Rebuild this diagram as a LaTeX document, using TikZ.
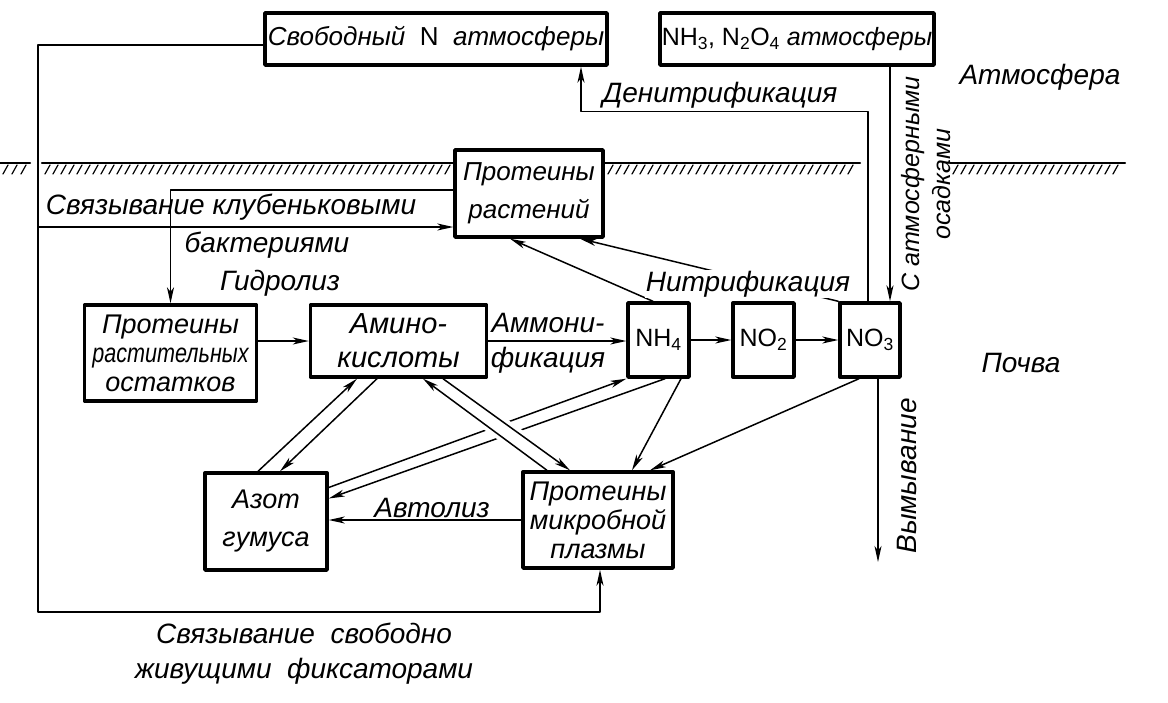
\documentclass[tikz,border=0pt]{standalone}
\usepackage{fontspec}
\setmainfont{Liberation Sans}
\newfontfamily\narrowsans{Liberation Sans}[FakeStretch=0.8]
\usetikzlibrary{arrows.meta}

\begin{document}
\begin{tikzpicture}[x=1pt, y=-1pt, line cap=round, line join=round,
  box/.style={draw, line width=3.4pt, line cap=butt, inner sep=0pt, align=center,
    font=\fontsize{26}{31}\selectfont\itshape},
  chem/.style={box, font=\fontsize{25}{30}\selectfont},
  arr/.style={line width=1.5pt, -{Stealth[length=16pt,width=7pt,inset=4.5pt]}},
  lbl/.style={inner sep=1pt, font=\fontsize{28}{35}\selectfont\itshape}]

  %% ════ 地面线（斜线阴影）════
  \foreach \a/\b in {0/30, 42/455, 605/860, 950/1125} {
    \draw[line width=2.2pt] (\a,163) -- (\b,163);
  }
  \foreach \x in {8,17,26} \draw[line width=1.2pt] (\x,165) -- ++(-5,9);
  \foreach \x in {50,58,...,455} \draw[line width=1.2pt] (\x,165) -- ++(-5,9);
  \foreach \x in {613,621,...,860} \draw[line width=1.2pt] (\x,165) -- ++(-5,9);
  \foreach \x in {958,966,...,1125} \draw[line width=1.2pt] (\x,165) -- ++(-5,9);

  %% ════ 方框 ════
  \node[box, minimum width=342pt, minimum height=52pt] (atmN) at (436,39)
    {Свободный\ \ \textup{N}\ \ атмосферы};
  \node[box, minimum width=274pt, minimum height=52pt, font=\fontsize{25}{30}\selectfont\itshape] (atmNH) at (797,39)
    {\textup{NH\textsubscript{3}, N\textsubscript{2}O\textsubscript{4}}\ атмосферы};
  \node[box, minimum width=148pt, minimum height=87pt, font=\fontsize{26}{38}\selectfont\itshape] (plant) at (529,193.5)
    {Протеины\\растений};
  \node[box, minimum width=172pt, minimum height=96pt, font=\fontsize{27}{29}\selectfont\itshape] (resid) at (170.5,353)
    {Протеины\\{\narrowsans\itshape растительных}\\остатков};
  \node[box, minimum width=176pt, minimum height=72pt, font=\fontsize{29}{34}\selectfont\itshape] (amino) at (398.5,341)
    {Амино-\\кислоты};
  \node[chem, minimum width=61pt, minimum height=74pt] (nhf) at (658.5,340) {NH\textsubscript{4}};
  \node[chem, minimum width=61pt, minimum height=74pt] (notwo) at (763.5,340) {NO\textsubscript{2}};
  \node[chem, minimum width=60pt, minimum height=74pt] (nothree) at (870,340) {NO\textsubscript{3}};
  \node[box, minimum width=122pt, minimum height=97pt, font=\fontsize{27}{38}\selectfont\itshape] (humus) at (266,521.5)
    {Азот\\гумуса};
  \node[box, minimum width=150pt, minimum height=96pt, font=\fontsize{27}{29}\selectfont\itshape] (microb) at (598,520)
    {Протеины\\микробной\\плазмы};

  %% ════ 辅助点 ════
  \coordinate (corner) at (38,612);
  \coordinate (nodl) at (38,227);
  \coordinate (rain) at ([xshift=20pt]nothree.north);
  \coordinate (leach) at (878,562);

  %% ════ 连线 ════
  \draw[arr] ([yshift=-6pt]atmN.west) -| (corner) -| ([xshift=2pt]microb.south);
  \draw[arr] (nodl) -- (nodl -| plant.west);
  \draw[arr] ([yshift=3.5pt]plant.west) -| (resid.north);
  \draw[arr] (resid.east |- amino.west) -- (amino.west);
  \draw[arr] (amino.east) -- (amino.east -| nhf.west);
  \draw[arr] (nhf.east) -- (notwo.west);
  \draw[arr] (notwo.east) -- (nothree.west);
  \draw[arr] ([xshift=-5.5pt]nhf.north) -- ([xshift=-19pt]plant.south);
  \draw[arr] (nothree.north west) -- ([xshift=51pt]plant.south);
  \draw[arr] ([xshift=-2pt]nothree.north) -- ++(0,-190) -| ([xshift=145pt]atmN.south);
  \draw[arr] (atmNH.south -| rain) -- (rain);
  \draw[arr] (nothree.south -| leach) -- (leach);

  % 氨基酸 <-> 腐殖质
  \draw[arr] ([xshift=-8pt]humus.north) -- ([xshift=-41.5pt]amino.south);
  \draw[arr] ([xshift=-21.5pt]amino.south) -- ([xshift=14pt]humus.north);
  % NH4 <-> 腐殖质（在交叉处断开）
  \draw[arr] ([yshift=34pt]humus.east) -- (nhf.south west);
  \draw[arr] ([xshift=6.5pt]nhf.south) -- ([yshift=23pt]humus.east);
  \draw[white, line width=22pt, shorten <=25pt, shorten >=25pt]
    ([xshift=34.5pt]amino.south) -- ([xshift=-39.5pt]microb.north);
  % 氨基酸 <-> 微生物
  \draw[arr] ([xshift=-51pt]microb.north) -- ([xshift=24.5pt]amino.south);
  \draw[arr] ([xshift=44.5pt]amino.south) -- ([xshift=-28pt]microb.north);
  \draw[arr] ([xshift=22.5pt]nhf.south) -- ([xshift=34pt]microb.north);
  \draw[arr] ([xshift=-11pt]nothree.south) -- ([xshift=52pt]microb.north);
  \draw[arr] (microb.west) -- (humus.east |- microb.west);

  %% ════ 标签 ════
  \node[lbl] (atmlbl) at (1040,77) {Атмосфера};
  \node[lbl] (soillbl) at (1021,363) {Почва};
  \node[lbl] (denitlbl) at (720,95) {Денитрификация};
  \node[lbl, fill=white] (nitrlbl) at (748,284) {Нитрификация};
  \node[lbl] (hydrlbl) at (280,283) {Гидролиз};
  \node[lbl] (ammlbl) at (548,323) {Аммони-};
  \node[lbl] (ammlblb) at (548,360) {фикация};
  \node[lbl] (autlbl) at (432,508) {Автолиз};
  \node[lbl] (nodlbl) at (231,207) {Связывание клубеньковыми};
  \node[lbl] (nodlblb) at (267,245) {бактериями};
  \node[lbl, align=center] (freelbl) at (304,654) {Связывание\ \ свободно\\живущими\ \ фиксаторами};
  \node[lbl, rotate=90, align=center, font=\fontsize{25}{31}\selectfont\itshape] (rainlbl) at (926,184) {С атмосферными\\осадками};
  \node[lbl, rotate=90] (leachlbl) at (907,476) {Вымывание};

  \pgfresetboundingbox
  \path[use as bounding box] (0,0) rectangle (1168,702);
\end{tikzpicture}
\end{document}
